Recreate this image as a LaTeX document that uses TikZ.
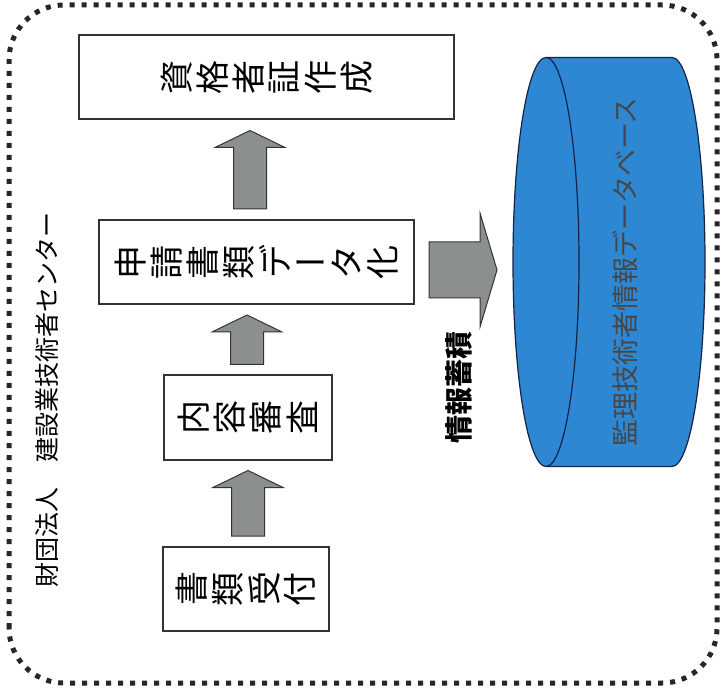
\documentclass[tikz,border=0pt]{standalone}
\usepackage{fontspec}
\usepackage{graphicx}
\setmainfont{Noto Sans CJK JP}
\usetikzlibrary{calc}
\definecolor{dbblue}{RGB}{45,135,210}
\definecolor{dbline}{RGB}{20,35,70}
\definecolor{arrgray}{RGB}{140,144,140}
\newcommand\vch[1]{\makebox[36pt]{\rotatebox[origin=c]{90}{#1}}}
\newcommand\vbar{\makebox[36pt]{ー}}
\tikzset{
  boxnode/.style={draw=black!80, line width=2pt, fill=white, inner sep=0pt,
    minimum height=84pt, font=\fontsize{34pt}{36pt}\selectfont},
  barrow/.style={draw=black!80, line width=1pt, fill=arrgray, line join=miter},
  border/.style={draw=black!85, line width=5pt, dash pattern=on 5pt off 7pt, rounded corners=55pt}
}
\newcommand\uparr[3]{%
  \coordinate (tipA) at ($(#3,0 |- #2.south)+(0,-10)$);
  \coordinate (baseA) at ($(#3,0 |- #1.north)+(0,10)$);
  \draw[barrow] (tipA) -- ($(tipA)+(35,-17)$) -- ($(tipA)+(16.5,-17)$) -- ($(baseA)+(16.5,0)$)
    -- ($(baseA)+(-16.5,0)$) -- ($(tipA)+(-16.5,-17)$) -- ($(tipA)+(-35,-17)$) -- cycle;
}
\begin{document}
\begin{tikzpicture}[x=1pt,y=1pt]
\useasboundingbox (0,0) rectangle (722,691);
\fill[white] (0,0) rectangle (722,691);
\draw[border] (9,8) rectangle (717,686);

% title
\node[rotate=90, font=\fontsize{25pt}{27pt}\selectfont, inner sep=0pt] (title) at (47,291) {財団法人　建設業技術者センター};

% boxes
\node[boxnode, minimum width=375pt] (shikaku) at (266.5,613.5) {\vch{資}\vch{格}\vch{者}\vch{証}\vch{作}\vch{成}};
\node[boxnode, minimum width=315pt] (shinsei) at (256.5,429) {\vch{申}\vch{請}\vch{書}\vch{類}\vch{デ}\vbar\vch{タ}\vch{化}};
\node[boxnode, minimum width=168pt] (naiyou) at (248,273.5) {\vch{内}\vch{容}\vch{審}\vch{査}};
\node[boxnode, minimum width=166pt] (uketsuke) at (246,102) {\vch{書}\vch{類}\vch{受}\vch{付}};

% up arrows
\uparr{uketsuke}{naiyou}{248}
\uparr{naiyou}{shinsei}{247}
\uparr{shinsei}{shikaku}{250}

% database cylinder
\fill[dbblue] (546,633.5) -- (672,633.5) arc[start angle=90, end angle=-90, x radius=33, y radius=204.5]
  -- (546,224.5) arc[start angle=270, end angle=90, x radius=33, y radius=204.5] -- cycle;
\draw[dbline, line width=1.2pt] (546,633.5) -- (672,633.5) arc[start angle=90, end angle=-90, x radius=33, y radius=204.5]
  -- (546,224.5);
\draw[dbline, line width=1.2pt, fill=dbblue] (546,429) ellipse[x radius=33, y radius=204.5];
\coordinate (dbw) at (513,429);
\node[rotate=90, font=\fontsize{27pt}{29pt}\selectfont, text=black!72, inner sep=0pt] (dbtext) at (625,419) {監理技術者情報データベース};

% right arrow
\coordinate (S) at ($(shinsei.east)+(14,-8)$);
\coordinate (E) at ($(dbw)+(-16,-8)$);
\draw[barrow] ($(S)+(0,28)$) -- ($(E)+(-17,28)$) -- ($(E)+(-17,57)$) -- (E) -- ($(E)+(-17,-57)$)
  -- ($(E)+(-17,-28)$) -- ($(S)+(0,-28)$) -- cycle;
\node[rotate=90, font=\bfseries\fontsize{28pt}{30pt}\selectfont, inner sep=0pt] (joho) at (459,304) {情報蓄積};
\end{tikzpicture}
\end{document}
